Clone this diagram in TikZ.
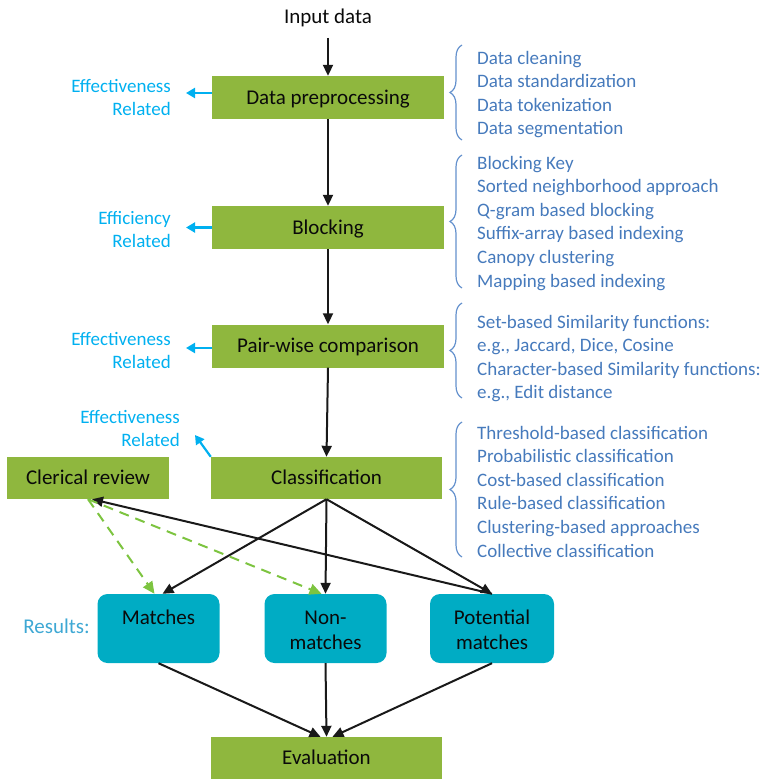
\documentclass[tikz,border=0pt]{standalone}
\usepackage{fontspec}
\setmainfont{Carlito}
\usetikzlibrary{arrows.meta,decorations.pathreplacing,calc}
\definecolor{boxgreen}{RGB}{143,183,62}
\definecolor{boxteal}{RGB}{0,172,196}
\definecolor{cyantext}{RGB}{0,176,240}
\definecolor{restext}{RGB}{62,168,212}
\definecolor{listblue}{RGB}{70,122,188}
\definecolor{bracecol}{RGB}{100,145,205}
\definecolor{dashgreen}{RGB}{125,196,64}
\definecolor{darktext}{RGB}{10,10,10}
\begin{document}
\begin{tikzpicture}[x=1pt,y=-1pt,
  stage/.style={fill=boxgreen, draw=none, minimum width=232pt, minimum height=43pt, inner sep=0pt, font=\fontsize{21}{25.6}\selectfont, text=darktext, text height=13.5pt, text depth=0pt},
  result/.style={fill=boxteal, rounded corners=10pt, minimum width=122pt, minimum height=69pt, inner sep=0pt},
  restxt/.style={align=center, font=\fontsize{21}{25.6}\selectfont, text=darktext, inner sep=0pt},
  note/.style={align=right, font=\fontsize{19}{23}\selectfont, text=cyantext, inner sep=0pt, anchor=east},
  listitem/.style={font=\fontsize{19}{23.6}\selectfont, text=listblue, inner sep=0pt, anchor=base west},
  arr/.style={draw=black!90, line width=2pt, -{Triangle[length=11pt,width=10pt]}},
  carr/.style={draw=cyantext, line width=2.2pt, -{Triangle[length=9pt,width=10pt]}},
  garr/.style={draw=dashgreen, line width=2pt, dash pattern=on 10pt off 7pt, -{Triangle[length=12pt,width=11pt]}},
  bracepath/.style={draw=bracecol, line width=1.2pt, decorate, decoration={brace, amplitude=12pt}}
]
\useasboundingbox (0,0) rectangle (769,779);

% main stages
\node[font=\fontsize{21}{25.6}\selectfont, text=darktext, text height=13.5pt, text depth=0pt, inner sep=0pt] (input) at (328,17) {Input data};
\node[stage] (pre) at (328,97.5) {Data preprocessing};
\node[stage] (blk) at (328,227.5) {Blocking};
\node[stage] (pw) at (328,346) {Pair-wise comparison};
\node[stage, minimum width=231pt, minimum height=42pt] (cls) at (326.5,478) {Classification};
\node[stage, minimum width=162pt, minimum height=42pt] (cr) at (88,478) {Clerical review};
\node[stage, minimum width=231pt, minimum height=42pt] (ev) at (326.5,758) {Evaluation};

% result boxes
\node[result] (mat) at (158.5,628.5) {};
\node[result] (non) at (325.5,628.5) {};
\node[result, minimum width=124pt] (pot) at (492,628.5) {};
\node[restxt] (matT) at ($(mat.center)+(0,3.2)$) {\strut Matches\\\strut};
\node[restxt] (nonT) at ($(non.center)+(0,3.2)$) {\strut Non-\\\strut matches};
\node[restxt] (potT) at ($(pot.center)+(0,3.2)$) {\strut Potential\\\strut matches};
\node[font=\fontsize{21}{25.6}\selectfont, text=restext, anchor=east, inner sep=0pt, text height=13.5pt, text depth=0pt] (resL) at (90,627) {Results:};

% side notes
\coordinate (preN) at (186,93);
\coordinate (blkN) at (186,227.5);
\coordinate (pwN) at (186,348);
\coordinate (clsN) at (195,435);
\draw[carr] (pre.west |- preN) -- (preN);
\draw[carr] (blk.west |- blkN) -- (blkN);
\draw[carr] (pw.west |- pwN) -- (pwN);
\draw[carr] (cls.north west) -- (clsN);
\node[note] (preL) at (171,99) {\strut Effectiveness\\\strut Related};
\node[note] (blkL) at (171,231.5) {\strut Efficiency\\\strut Related};
\node[note] (pwL) at (171,352.5) {\strut Effectiveness\\\strut Related};
\node[note] (clsL) at (180,430) {\strut Effectiveness\\\strut Related};

% lists
\foreach \t [count=\i from 0] in {Data cleaning, Data standardization, Data tokenization, Data segmentation}
  \node[listitem] (la\i) at (477, 64.1+23.6*\i) {\t};
\foreach \t [count=\i from 0] in {Blocking Key, Sorted neighborhood approach, Q-gram based blocking, Suffix-array based indexing, Canopy clustering, Mapping based indexing}
  \node[listitem] (lb\i) at (477, 169.1+23.6*\i) {\t};
\foreach \t [count=\i from 0] in {Set-based Similarity functions:, {e.g., Jaccard, Dice, Cosine}, Character-based Similarity functions:, {e.g., Edit distance}}
  \node[listitem] (lc\i) at (477, 328.1+23.6*\i) {\t};
\foreach \t [count=\i from 0] in {Threshold-based classification, Probabilistic classification, Cost-based classification, Rule-based classification, Clustering-based approaches, Collective classification}
  \node[listitem] (ld\i) at (477, 439.1+23.6*\i) {\t};

% braces
\draw[bracepath] (462,140) -- (462,45);
\draw[bracepath] (462,288) -- (462,155);
\draw[bracepath] (462,398) -- (462,303);
\draw[bracepath] (462,557) -- (462,422);

% connectors
\draw[arr, shorten <=14pt] (input) -- (pre);
\draw[arr] (pre) -- (blk);
\draw[arr] (blk) -- (pw);
\draw[arr] (pw.south) -- (cls.north);
\draw[arr] (cls.south) -- ([xshift=4pt]mat.north);
\draw[arr] (cls.south) -- (non.north);
\draw[arr] (cls.south) -- (pot.north);
\draw[arr] (pot.north) -- ([xshift=4pt]cr.south);
\draw[garr] (cr.south) -- ([xshift=-4pt]mat.north);
\draw[garr] (cr.south) -- ([xshift=-4pt]non.north);
\draw[arr] (mat.south) -- ([xshift=-6pt]ev.north);
\draw[arr] (non.south) -- (ev.north);
\draw[arr] (pot.south) -- ([xshift=6pt]ev.north);
\end{tikzpicture}
\end{document}
